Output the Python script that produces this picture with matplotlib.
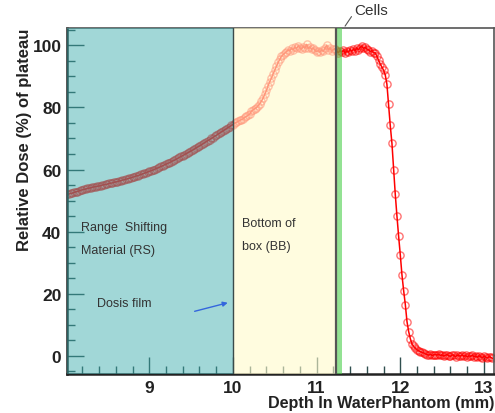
import numpy as np
import matplotlib
matplotlib.use("Agg")
import matplotlib.pyplot as plt
from matplotlib.ticker import MultipleLocator

plt.rcParams["font.family"] = ["Liberation Sans", "DejaVu Sans"]

# depth grid (mm), 0.02 mm steps
DEPTH_START = 8.02
DEPTH_STEP = 0.02

# relative dose (%)
dose = [
    52.0, 52.1, 52.3, 52.4, 52.6, 52.8, 52.9, 53.1, 53.3, 53.5,
    53.6, 53.7, 53.9, 54.0, 54.1, 54.3, 54.4, 54.5, 54.6, 54.7,
    54.8, 55.0, 55.1, 55.2, 55.3, 55.5, 55.6, 55.7, 55.9, 56.0,
    56.1, 56.3, 56.4, 56.6, 56.7, 56.9, 57.0, 57.2, 57.3, 57.5,
    57.7, 57.9, 58.0, 58.2, 58.4, 58.6, 58.8, 59.0, 59.2, 59.4,
    59.6, 59.8, 60.0, 60.3, 60.5, 60.7, 61.0, 61.2, 61.5, 61.7,
    62.0, 62.2, 62.5, 62.8, 63.0, 63.3, 63.6, 63.9, 64.2, 64.5,
    64.8, 65.1, 65.4, 65.7, 66.0, 66.3, 66.6, 67.0, 67.3, 67.6,
    67.9, 68.3, 68.6, 69.0, 69.3, 69.6, 70.0, 70.3, 70.7, 71.0,
    71.4, 71.7, 72.1, 72.4, 72.8, 73.1, 73.5, 73.8, 74.2, 74.5,
    74.9, 75.2, 75.5, 75.8, 76.1, 76.3, 76.8, 77.1, 77.5, 77.8,
    78.8, 79.2, 79.6, 79.9, 80.5, 81.2, 82.0, 83.0, 84.2, 85.5,
    87.0, 88.3, 89.5, 90.8, 92.0, 93.3, 94.5, 95.5, 96.5, 97.0,
    97.5, 98.0, 98.5, 98.3, 99.0, 98.6, 99.4, 99.0, 99.8, 99.2,
    98.8, 99.6, 99.1, 100.3, 99.0, 99.5, 98.7, 99.2, 98.4, 98.0,
    98.3, 97.8, 98.5, 98.1, 99.2, 100.0, 98.6, 99.1, 98.2, 98.7,
    98.9, 98.2, 97.6, 98.3, 97.9, 98.4, 97.6, 98.2, 97.8, 98.6,
    98.1, 98.7, 98.3, 99.1, 98.6, 99.3, 99.7, 99.0, 99.4, 98.8,
    98.6, 98.0, 98.3, 97.6, 97.6, 96.5, 95.2, 94.0, 93.0, 92.0,
    90.5, 87.5, 81.0, 74.2, 68.5, 60.0, 52.0, 45.0, 38.5, 32.5,
    26.0, 21.0, 16.5, 11.0, 7.8, 5.5, 3.8, 3.0, 2.4, 1.9,
    1.6, 1.3, 1.1, 0.9, 0.6, 0.4, 0.2, 0.5, 0.1, 0.3,
    0.4, 0.2, 0.5, 0.1, 0.3, -0.1, 0.2, 0.4, 0.0, -0.2,
    0.3, 0.1, -0.3, 0.2, 0.0, -0.1, 0.3, -0.2, 0.1, -0.4,
    0.0, -0.2, 0.2, -0.3, -0.1, -0.5, 0.0, -0.3, -0.6, -0.2,
    -0.4, -0.7, -0.3, -0.5, -0.8,
]
depth = DEPTH_START + DEPTH_STEP * np.arange(len(dose))

# region borders (mm)
RS_END = 10.0
BB_END = 11.23
CELLS_END = 11.30

fig = plt.figure(figsize=(4.95, 4.14), dpi=100)
ax = fig.add_axes([0.1354, 0.094, 0.8626, 0.836])

ax.plot(depth, dose, color="red", lw=1.1, marker="o", ms=5.2,
        mfc="none", mec=(1, 0, 0, 0.55), mew=1.0, zorder=2)

# shaded regions drawn over the curve (semi transparent)
ax.axvspan(7.5, RS_END, color="#39aaaa", alpha=0.47, lw=0, zorder=3)
ax.axvspan(RS_END, BB_END, color="#fffacb", alpha=0.6, lw=0, zorder=3)
ax.axvspan(BB_END, CELLS_END, color="#4ccf4c", alpha=0.6, lw=0, zorder=3)
ax.axvline(RS_END, color="#3a4a4a", lw=1.0, zorder=4)
ax.axvline(BB_END, color="#555555", lw=1.6, zorder=4)

ax.set_xlim(8.017, 13.12)
ax.set_ylim(-5.9, 105.6)

ax.xaxis.set_major_locator(MultipleLocator(1))
ax.xaxis.set_minor_locator(MultipleLocator(0.2))
ax.yaxis.set_major_locator(MultipleLocator(20))
ax.yaxis.set_minor_locator(MultipleLocator(5))
ax.tick_params(which="both", direction="in", color="#2f4f4f", top=False, right=False)
ax.tick_params(which="major", length=12, width=1.0, pad=4)
ax.tick_params(which="minor", length=6, width=1.0)
for lab in ax.get_xticklabels() + ax.get_yticklabels():
    lab.set_fontweight("bold")
    lab.set_fontsize(12.5)
    lab.set_color("#222222")

for s in ["left", "bottom"]:
    ax.spines[s].set_linewidth(1.8)
    ax.spines[s].set_color("#222222")
for s in ["top", "right"]:
    ax.spines[s].set_linewidth(1.2)
    ax.spines[s].set_color("#555555")

ax.set_ylabel("Relative Dose (%) of plateau", fontsize=12, fontweight="bold",
              loc="top", color="#222222")
ax.yaxis.set_label_coords(-0.083, 1.0)
ax.set_xlabel("Depth In WaterPhantom (mm)", fontsize=11.6, fontweight="bold",
              loc="right", color="#222222")
ax.xaxis.set_label_coords(1.0, -0.06)

txt = dict(fontsize=9, color="#333333", va="center", zorder=5)
ax.text(8.18, 41.5, "Range  Shifting", **txt)
ax.text(8.18, 34.0, "Material (RS)", **txt)
ax.text(10.11, 42.8, "Bottom of", **txt)
ax.text(10.11, 35.4, "box (BB)", **txt)
ax.text(8.37, 17.0, "Dosis film", **txt)
ax.annotate("", xy=(9.97, 17.3), xytext=(9.51, 14.1),
            arrowprops=dict(arrowstyle="-|>", color="#3366dd", lw=1.0,
                            mutation_scale=7), zorder=5)
ax.annotate("Cells", xy=(11.34, 106.2), xytext=(11.45, 111.5),
            textcoords="data", fontsize=11, color="#333333", va="center",
            annotation_clip=False,
            arrowprops=dict(arrowstyle="-", color="#555555", lw=0.8,
                            shrinkA=0, shrinkB=0, relpos=(0, 0.3)))

fig.savefig("out.png", dpi=100)
